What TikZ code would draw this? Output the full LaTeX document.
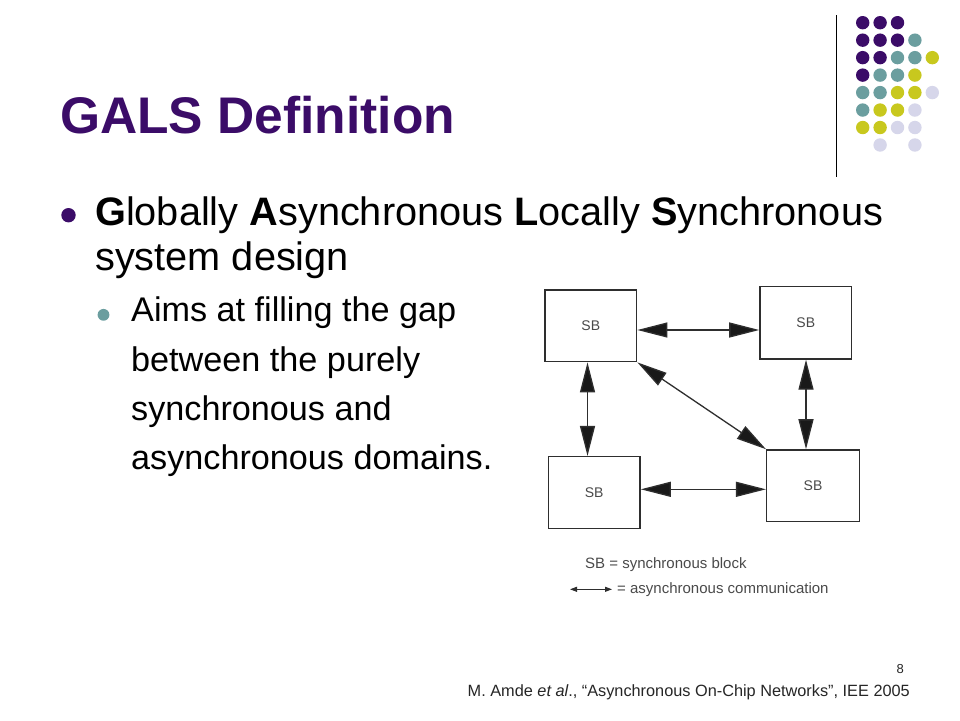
\documentclass[tikz,border=0pt]{standalone}
\usepackage{fontspec}
\setmainfont{Liberation Sans}
\newfontfamily\figfont{Liberation Sans}
\usetikzlibrary{arrows.meta,calc}
\definecolor{ttlpurple}{HTML}{3B0C68}
\definecolor{dteal}{HTML}{6B9E9F}
\definecolor{dyellow}{HTML}{C8C81E}
\definecolor{dlav}{HTML}{D6D6EA}
\definecolor{figgray}{HTML}{2E2E2E}
\definecolor{figtext}{HTML}{4A4A4A}
\tikzset{
  sbbox/.style={draw=figgray, line width=1.5pt, fill=white, minimum width=#1, inner sep=0pt,
    font=\figfont\fontsize{14}{16}\selectfont, text=figtext},
  comm/.style={draw=figgray, line width=1.3pt, {Triangle[length=30pt,width=15pt,fill=black!90]}-{Triangle[length=30pt,width=15pt,fill=black!90]}},
  smallcomm/.style={draw=figgray, line width=1pt, {Triangle[length=7pt,width=5pt]}-{Triangle[length=7pt,width=5pt]}},
  legend/.style={font=\figfont\fontsize{15}{17}\selectfont, text=figtext, inner sep=0pt, anchor=base west},
  bodytxt/.style={font=\fontsize{39.7}{46}\selectfont, inner sep=0pt, anchor=base west},
  subtxt/.style={font=\fontsize{34.2}{40}\selectfont, inner sep=0pt, anchor=base west},
  dot/.style={circle, inner sep=0pt, minimum size=13.4pt, fill=#1}
}
\begin{document}
\begin{tikzpicture}[x=1pt,y=-1pt]
\useasboundingbox (0,0) rectangle (960,720);
\fill[white] (0,0) rectangle (960,720);

% decorative dot grid
\coordinate (vl1) at (836,15);
\coordinate (vl2) at (836,177);
\draw[black, line width=1pt] (vl1) -- (vl2);
\foreach \r/\c/\col in {
 0/0/ttlpurple,0/1/ttlpurple,0/2/ttlpurple,
 1/0/ttlpurple,1/1/ttlpurple,1/2/ttlpurple,1/3/dteal,
 2/0/ttlpurple,2/1/ttlpurple,2/2/dteal,2/3/dteal,2/4/dyellow,
 3/0/ttlpurple,3/1/dteal,3/2/dteal,3/3/dyellow,
 4/0/dteal,4/1/dteal,4/2/dyellow,4/3/dyellow,4/4/dlav,
 5/0/dteal,5/1/dyellow,5/2/dyellow,5/3/dlav,
 6/0/dyellow,6/1/dyellow,6/2/dlav,6/3/dlav,
 7/1/dlav,7/3/dlav}
 \node[dot=\col] (d\r\c) at ({862.7+\c*17.4},{22.7+\r*17.47}) {};

% title
\node[font=\bfseries\fontsize{51.5}{60}\selectfont, text=ttlpurple, inner sep=0pt, anchor=base west] (title) at (60,133) {GALS Definition};

% main bullet
\node[circle, fill=ttlpurple, inner sep=0pt, minimum size=14.4pt] (b1) at (68.5,215.2) {};
\node[bodytxt] (l1) at (95,225) {\textbf{G}lobally \textbf{A}synchronous \textbf{L}ocally \textbf{S}ynchronous};
\node[bodytxt] (l2) at (95,270) {system design};

% sub bullet
\node[circle, fill=dteal, inner sep=0pt, minimum size=11.8pt] (b2) at (103.5,314.8) {};
\node[subtxt] (s1) at (131,321.7) {Aims at filling the gap};
\node[subtxt] (s2) at (131,371) {between the purely};
\node[subtxt] (s3) at (131,420.3) {synchronous and};
\node[subtxt] (s4) at (131,469.8) {asynchronous domains.};

% diagram
\node[sbbox=91.7pt, minimum height=71.7pt] (tl) at (590.8,325.8) {SB};
\node[sbbox=91.7pt, minimum height=72.3pt] (tr) at (805.8,322.8) {SB};
\node[sbbox=91.7pt, minimum height=71.6pt] (bl) at (594.2,492.5) {SB};
\node[sbbox=92.6pt, minimum height=71.7pt] (br) at (813,485.8) {SB};

\coordinate (xl) at (587.5,0);
\coordinate (xr) at (806,0);
\coordinate (yt) at (0,330);
\coordinate (yb) at (0,489.3);
\draw[comm] (tl.east |- yt) -- (tr.west |- yt);
\draw[comm] (bl.east |- yb) -- (br.west |- yb);
\draw[comm] (tl.south -| xl) -- (bl.north -| xl);
\draw[comm] (tr.south -| xr) -- (br.north -| xr);
\draw[comm] (tl.south east) -- (br.north west);

% legend
\node[legend] (lg1) at (585,568) {SB = synchronous block};
\coordinate (la) at (570,589.3);
\coordinate (lb) at (612,589.3);
\draw[smallcomm] (la) -- (lb);
\node[legend] (lg2) at (617,593.5) {= asynchronous communication};

% footer
\node[font=\fontsize{13}{15}\selectfont, inner sep=0pt, anchor=base east, text=black!85] (pg) at (904,673) {8};
\node[font=\fontsize{16.3}{19}\selectfont, inner sep=0pt, anchor=base east, text=black!85] (cite) at (910,696.7) {M. Amde \textit{et al}., “Asynchronous On-Chip Networks”, IEE 2005};
\end{tikzpicture}
\end{document}
